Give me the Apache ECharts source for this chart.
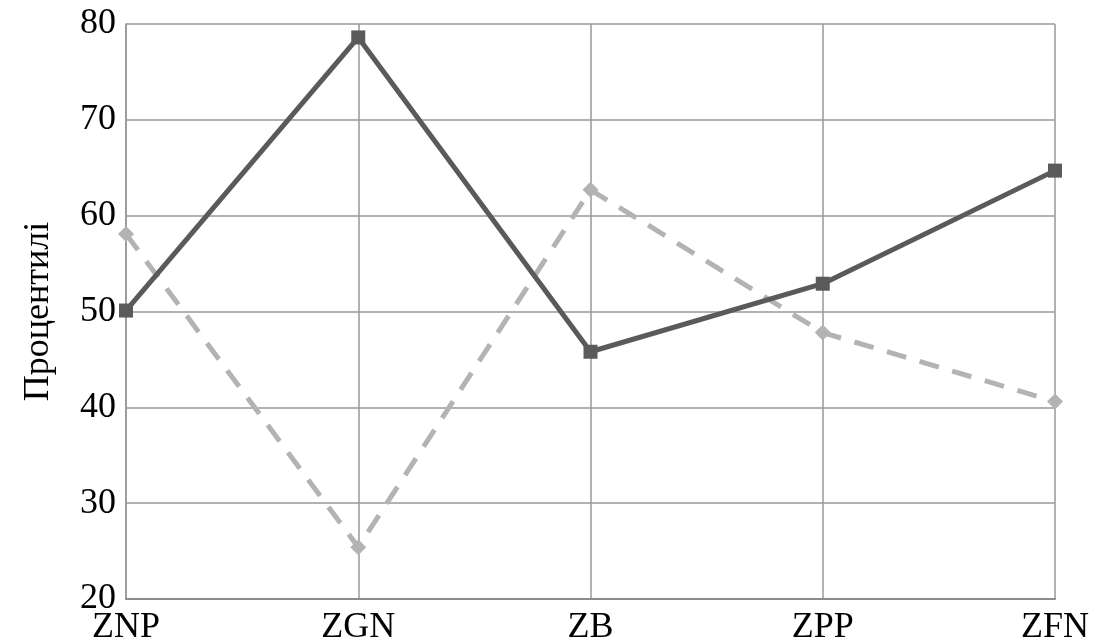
<!DOCTYPE html>
<html><head><meta charset="utf-8">
<script src="https://cdn.jsdelivr.net/npm/echarts@6/dist/echarts.min.js"></script>
<style>html,body{margin:0;padding:0;background:#fff}#c{width:1105px;height:643px}</style>
</head><body><div id="c"></div>
<script>
const categories = ['ZNP','ZGN','ZB','ZPP','ZFN'];
const seriesA = [50.1, 78.6, 45.8, 52.9, 64.7];
const seriesB = [58.1, 25.4, 62.7, 47.8, 40.6];
const yTicks = [20, 30, 40, 50, 60, 70, 80];
const yName = 'Процентилі';

const chart = echarts.init(document.getElementById('c'));
const font = 'Liberation Serif, Times New Roman, serif';
chart.setOption({
  animation: false,
  grid: {left: 126, right: 50, top: 24, bottom: 44, containLabel: false, outerBoundsMode: 'none'},
  xAxis: {
    type: 'category', data: categories, boundaryGap: false,
    axisLine: {lineStyle: {color: '#8c8c8c', width: 2}},
    axisTick: {show: false},
    axisLabel: {color: '#000', fontFamily: font, fontSize: 36, margin: 11},
    splitLine: {show: true, lineStyle: {color: '#999', width: 1.5}}
  },
  yAxis: {
    type: 'value', min: yTicks[0], max: yTicks[yTicks.length-1], interval: 10,
    name: yName, nameLocation: 'middle', nameGap: 69,
    nameTextStyle: {color: '#000', fontFamily: font, fontSize: 36},
    axisLine: {show: true, lineStyle: {color: '#999', width: 1.5}},
    axisTick: {show: false},
    axisLabel: {color: '#000', fontFamily: font, fontSize: 36, margin: 10},
    splitLine: {show: true, lineStyle: {color: '#999', width: 1.5}}
  },
  series: [
    {type: 'line', data: seriesB, symbol: 'diamond', symbolSize: 16,
     lineStyle: {color: '#b3b3b3', width: 5, type: [20, 14]},
     itemStyle: {color: '#b3b3b3'}, z: 2},
    {type: 'line', data: seriesA, symbol: 'rect', symbolSize: 14,
     lineStyle: {color: '#5a5a5a', width: 5},
     itemStyle: {color: '#5a5a5a'}, z: 3}
  ]
});
</script></body></html>
